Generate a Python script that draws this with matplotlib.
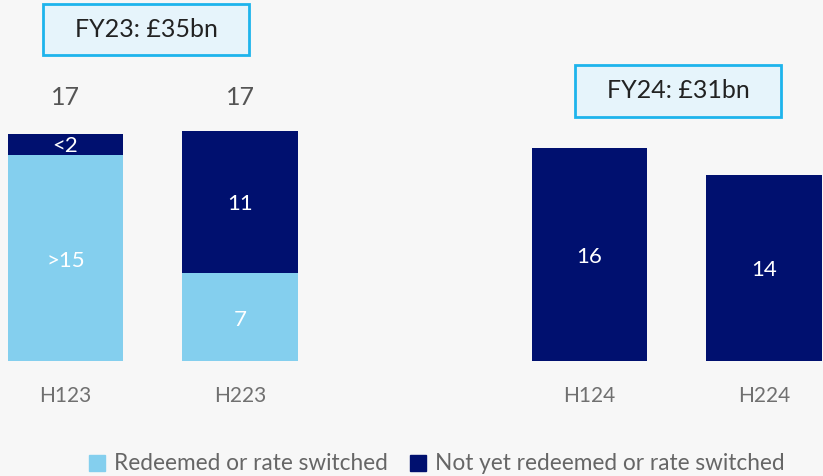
import matplotlib.pyplot as plt
from matplotlib.patches import Patch, Rectangle

plt.rcParams['font.family'] = ['Lato', 'DejaVu Sans']

categories = ['H123', 'H223', 'H124', 'H224']
positions = [0, 1, 3, 4]
redeemed = [15.5, 6.6, 0, 0]
not_redeemed = [1.6, 10.7, 16, 14]
redeemed_labels = ['>15', '7', '', '']
not_redeemed_labels = ['<2', '11', '16', '14']
totals = ['17', '17', '', '']

light = '#84cfee'
dark = '#00106f'
bg = '#f7f7f7'
W, H = 823, 476

fig = plt.figure(figsize=(W / 100, H / 100), dpi=100, facecolor=bg)
ax = fig.add_axes([0, 115 / H, 1, 361 / H])
ax.set_facecolor(bg)

ax.bar(positions, redeemed, width=0.66, color=light, edgecolor='none')
ax.bar(positions, not_redeemed, width=0.66, bottom=redeemed, color=dark, edgecolor='none')

for x, r, n, rl, nl, t, c in zip(positions, redeemed, not_redeemed, redeemed_labels,
                                 not_redeemed_labels, totals, categories):
    if rl:
        ax.text(x, r / 2 - 0.2, rl, ha='center', va='center', color='white', fontsize=16)
    if nl:
        ax.text(x, r + n / 2 - 0.15, nl, ha='center', va='center', color='white', fontsize=16)
    if t:
        ax.text(x, 19.8, t, ha='center', va='center', color='#555555', fontsize=18)
    ax.text(x, -2.6, c, ha='center', va='center', color='#707070', fontsize=15)

ax.set_xlim(-0.375, 4.338)
ax.set_ylim(0, 361 / 13.3)
ax.axis('off')

# FY summary boxes (pixel boxes from the reference)
for (x0, y0, x1, y1), label in [((43, 4, 249, 55), 'FY23: £35bn'), ((575, 65, 781, 117), 'FY24: £31bn')]:
    fig.patches.append(Rectangle((x0 / W, 1 - y1 / H), (x1 - x0) / W, (y1 - y0) / H,
                                 transform=fig.transFigure, facecolor='#e6f4fb',
                                 edgecolor='#1eb4ec', linewidth=2))
    fig.text((x0 + x1) / 2 / W, 1 - (y0 + y1) / 2 / H, label, ha='center', va='center',
             fontsize=18, color='#222222')

handles = [Patch(color=light, label='Redeemed or rate switched'),
           Patch(color=dark, label='Not yet redeemed or rate switched')]
fig.legend(handles=handles, loc='center', bbox_to_anchor=(0.531, 12 / H), ncol=2, frameon=False,
           fontsize=16.3, handlelength=0.7, handleheight=0.7, handletextpad=0.4, columnspacing=1.0,
           labelcolor='#666666')

fig.savefig('out.png', dpi=100, facecolor=bg)
